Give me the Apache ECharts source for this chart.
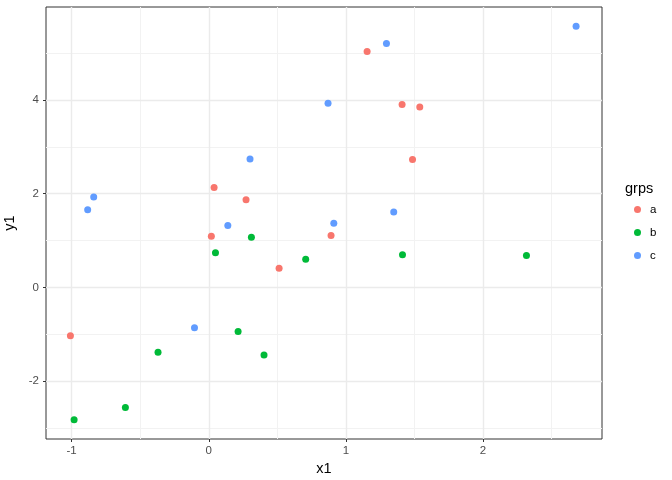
<!DOCTYPE html>
<html>
<head>
<meta charset="utf-8">
<script src="https://cdn.jsdelivr.net/npm/echarts@6/dist/echarts.min.js"></script>
<style>
  html, body { margin: 0; padding: 0; background: #fff; }
  #chart { width: 672px; height: 480px; }
</style>
</head>
<body>
<div id="chart"></div>
<script>
// values, [x1, y1]
const grpA = [
  [0.039, 2.13], [0.272, 1.87], [1.155, 5.03], [1.410, 3.90], [1.539, 3.85],
  [1.486, 2.73], [0.019, 1.09], [0.513, 0.41], [0.892, 1.11], [-1.009, -1.03]
];
const grpB = [
  [0.311, 1.07], [0.049, 0.74], [0.707, 0.60], [0.214, -0.94], [-0.370, -1.38],
  [0.403, -1.44], [-0.608, -2.56], [-0.982, -2.82], [1.413, 0.70], [2.317, 0.68]
];
const grpC = [
  [0.870, 3.93], [0.301, 2.74], [-0.839, 1.93], [-0.883, 1.66], [0.139, 1.32],
  [0.912, 1.37], [2.679, 5.57], [1.296, 5.20], [1.349, 1.61], [-0.104, -0.86]
];
const groups = ['a', 'b', 'c'];
const xTicks = [-1, 0, 1, 2];
const yTicks = [-2, 0, 2, 4];
const xMinor = [-0.5, 0.5, 1.5, 2.5];
const yMinor = [-3, -1, 1, 3, 5];
const xRange = [-1.187, 2.868];
const yRange = [-3.23, 5.98];

const COLORS = ['#F8766D', '#00BA38', '#619CFF'];
const FONT = '"Liberation Sans", Arial, sans-serif';

const chart = echarts.init(document.getElementById('chart'), null, { renderer: 'canvas' });

// ggplot style panel grid drawn as mark lines so it follows the axis scales
// (markLine defaults to z 5, so push it under the points)
const minorStyle = { color: '#f2f2f2', width: 1, type: 'solid' };
const majorStyle = { color: '#ebebeb', width: 1.4, type: 'solid' };
const gridLines = [
  ...xMinor.map((v) => ({ xAxis: v, lineStyle: minorStyle })),
  ...yMinor.map((v) => ({ yAxis: v, lineStyle: minorStyle })),
  ...xTicks.map((v) => ({ xAxis: v, lineStyle: majorStyle })),
  ...yTicks.map((v) => ({ yAxis: v, lineStyle: majorStyle })),
];

const axisCommon = {
  type: 'value',
  nameLocation: 'middle',
  nameTextStyle: { color: '#000', fontSize: 14.5, fontFamily: FONT },
  axisLine: { show: false, onZero: false },
  splitLine: { show: false },
  axisTick: { length: 3, lineStyle: { color: '#333', width: 1 } },
  axisLabel: { color: '#4d4d4d', fontSize: 11.5, fontFamily: FONT },
};

chart.setOption({
  backgroundColor: '#fff',
  animation: false,
  grid: {
    left: 46, right: 70, top: 7, bottom: 41,
    containLabel: false, outerBoundsMode: 'none',
    show: true, borderColor: '#333', borderWidth: 1,
  },
  title: {
    text: 'grps',
    left: 620,
    top: 176,
    textStyle: { color: '#000', fontSize: 14.5, fontWeight: 'normal', fontFamily: FONT },
  },
  legend: {
    orient: 'vertical',
    left: 629,
    top: 193,
    itemWidth: 7,
    itemHeight: 7,
    itemGap: 0,
    itemStyle: { borderWidth: 0 },
    textStyle: { color: '#000', fontSize: 11.5, fontFamily: FONT, lineHeight: 23, padding: [0, 0, 0, 4] },
    data: groups,
  },
  xAxis: {
    ...axisCommon,
    name: 'x1',
    nameGap: 22,
    min: xRange[0],
    max: xRange[1],
    axisTick: { ...axisCommon.axisTick, customValues: xTicks },
    axisLabel: { ...axisCommon.axisLabel, margin: 6, customValues: xTicks },
  },
  yAxis: {
    ...axisCommon,
    name: 'y1',
    nameGap: 24,
    min: yRange[0],
    max: yRange[1],
    axisTick: { ...axisCommon.axisTick, customValues: yTicks },
    axisLabel: { ...axisCommon.axisLabel, margin: 7, customValues: yTicks },
  },
  series: [
    {
      type: 'scatter',
      data: [],
      silent: true,
      z: 0,
      markLine: {
        silent: true, symbol: 'none', z: 0,
        label: { show: false }, data: gridLines, animation: false,
      },
    },
    ...[grpA, grpB, grpC].map((d, i) => ({
      name: groups[i],
      type: 'scatter',
      symbol: 'circle',
      data: d,
      symbolSize: 7,
      itemStyle: { color: COLORS[i], opacity: 1, borderWidth: 0 },
      z: 3,
    })),
  ],
});
</script>
</body>
</html>
